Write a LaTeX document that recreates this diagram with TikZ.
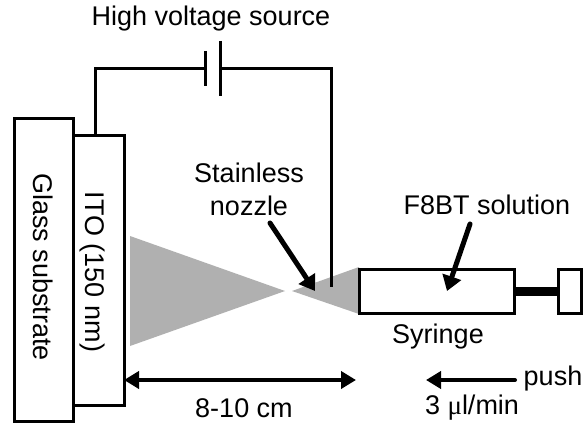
\documentclass[tikz,border=0pt]{standalone}
\usepackage{fontspec}
\setmainfont{Liberation Sans}
\newfontfamily\greekf{Liberation Serif}
\usetikzlibrary{arrows.meta}
\tikzset{
  box/.style={draw=black,line width=3pt,fill=white,inner sep=0pt},
  wire/.style={line width=3pt},
  spray/.style={fill=black!31,draw=none},
  lab/.style={inner sep=0pt,font=\fontsize{27}{33}\selectfont,text=black,align=center},
  pointer/.style={line width=5pt,line cap=round,-{Triangle[length=15pt,width=19pt]}},
  span/.style={line width=4pt,line cap=round,{Triangle[length=15pt,width=17pt]}-{Triangle[length=15pt,width=17pt]}},
  push/.style={line width=4pt,line cap=round,-{Triangle[length=15pt,width=17pt]}}
}
\begin{document}
\begin{tikzpicture}[x=1pt,y=-1pt]
\useasboundingbox[fill=white] (0,0) rectangle (583,428);
% sprays
\fill[spray] (130,236) -- (285,291) -- (130,346) -- cycle;
\fill[spray] (359,267) -- (292,291) -- (359,314) -- cycle;
% substrate
\draw[box] (14,118) rectangle (73,421);
\draw[box] (73,135) rectangle (124,405);
\coordinate (itotop) at (95,135);
\coordinate (c1) at (95,68);
\coordinate (p1) at (205.500,68);
\coordinate (p1a) at (205.500,51);
\coordinate (p1b) at (205.500,86);
\coordinate (p2) at (220.500,68);
\coordinate (p2a) at (220.500,41);
\coordinate (p2b) at (220.500,96);
\coordinate (c2) at (331.500,68);
\coordinate (tip) at (331.500,287);
\draw[wire,line join=miter] (itotop) -- (c1) -- (p1);
\draw[wire] (p1a) -- (p1b);
\draw[wire] (p2a) -- (p2b);
\draw[wire,line join=miter] (p2) -- (c2) -- (tip);
% syringe
\node[box,minimum width=155pt,minimum height=44pt] (syr) at (436.500,291) {};
\node[box,minimum width=23pt,minimum height=44pt] (hand) at (570,291) {};
\draw[line width=9pt] (syr.east) -- (hand.west);
% labels
\node[lab] (hv) at (211,19) {High voltage source};
\node[lab] (st) at (249,189) {Stainless\\nozzle};
\node[lab] (f8) at (487,205) {F8BT solution};
\node[lab] (sy) at (438,337) {Syringe};
\node[lab,rotate=-90] (gl) at (43,267) {Glass substrate};
\node[lab,rotate=-90] (it) at (92,272) {ITO (150 nm)};
\node[lab] (dist) at (244,408) {8-10 cm};
\node[lab] (pu) at (553,379) {push};
\node[lab] (fl) at (472,408) {3 {\greekf μ}l/min};
% arrows
\coordinate (a1s) at (270,223);
\coordinate (a1e) at (315,291);
\coordinate (a2s) at (470,224);
\coordinate (a2e) at (447,291);
\draw[pointer] (a1s) -- (a1e);
\draw[pointer] (a2s) -- (a2e);
\coordinate (d1) at (124,380);
\coordinate (d2) at (356,380);
\draw[span] (d1) -- (d2);
\coordinate (pa) at (515,380);
\coordinate (pb) at (426,380);
\draw[push] (pa) -- (pb);
\end{tikzpicture}
\end{document}
